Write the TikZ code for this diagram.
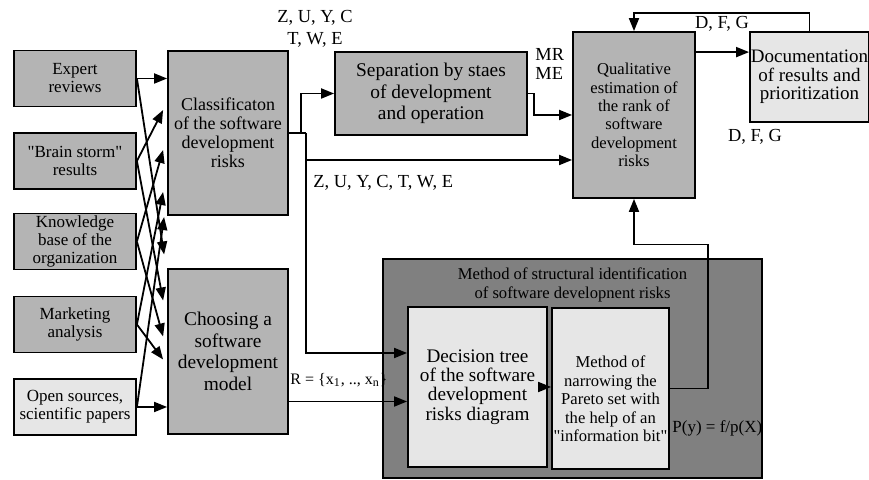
\documentclass[tikz,border=0pt]{standalone}
\usepackage{fontspec}
\setmainfont{Liberation Serif}
\newfontfamily\plainq{Liberation Serif}
\newcommand\dq{{\plainq"}}
\usetikzlibrary{arrows.meta, calc, positioning}
\definecolor{boxg}{RGB}{180,180,180}
\definecolor{paleg}{RGB}{230,230,230}
\definecolor{darkg}{RGB}{128,128,128}
\tikzset{blk/.style = {draw, line width=0.9pt, fill=boxg, align=center, inner sep=0pt}}
\tikzset{src/.style = {blk, minimum width=61pt, minimum height=28pt, font=\fontsize{8.5}{9}\selectfont}}
\tikzset{arr/.style = {-{Triangle[length=6.5pt, width=5pt]}, line width=0.9pt}}
\tikzset{lbl/.style = {inner sep=0pt, align=left, font=\fontsize{9.2}{11}\selectfont}}

\begin{document}
\begin{tikzpicture}[x=0.5pt, y=-0.5pt]
\useasboundingbox (0,0) rectangle (869,480);
\clip (0,0) rectangle (869,480);
\node[src] (expert) at (75,78.5) {Expert\\reviews};
\node[src] (brain) at (75,161) {\dq Brain storm\dq\\results};
\node[src] (know) at (75,241.5) {Knowledge\\base of the\\organization};
\node[src] (market) at (75,324.5) {Marketing\\analysis};
\node[src, fill=paleg] (open) at (75,407) {Open sources,\\scientific papers};
\node[blk, minimum width=60pt, minimum height=82pt, font=\fontsize{9}{9.5}\selectfont] (classif) at (228,133) {Classificaton\\of the software\\development\\risks};
\node[blk, minimum width=60pt, minimum height=82.5pt, font=\fontsize{9.7}{10.8}\selectfont] (choose) at (228,351.5) {Choosing a\\software\\development\\model};
\node[blk, minimum width=96pt, minimum height=41.5pt, font=\fontsize{9.7}{10.8}\selectfont] (separ) at (431,93.5) {Separation by staes\\of development\\and operation};
\node[blk, minimum width=61pt, minimum height=83pt, font=\fontsize{8.3}{9.2}\selectfont] (qual) at (634,115) {Qualitative\\estimation of\\the rank of\\software\\development\\risks};
\node[blk, fill=paleg, minimum width=59.5pt, minimum height=45pt, font=\fontsize{9.5}{9.2}\selectfont] (docum) at (809.5,77) {Documentation\\of results and\\prioritization};
\node[blk, fill=darkg, minimum width=189.5pt, minimum height=109.5pt] (method) at (572.5,368.5) {};
\node[inner sep=0pt, align=center, font=\fontsize{8.3}{9.3}\selectfont] (mtitle) at (572.5,285) {Method of structural identification\\of software developnent risks};
\node[blk, fill=paleg, minimum width=69.5pt, minimum height=80pt, font=\fontsize{9.6}{9.7}\selectfont] (decis) at (477.5,387) {Decision tree\\of the software\\development\\risks diagram};
\node[blk, fill=paleg, minimum width=58.5pt, minimum height=80.5pt] (narrow) at (610.5,388.5) {};
\node[inner sep=0pt, align=center, font=\fontsize{8.3}{9.3}\selectfont] (ntext) at (610.5,399) {Method of\\narrowing the\\Pareto set with\\the help of an\\\dq information bit\dq};

% sources to the two blocks
\draw[arr] (expert.east) -- (expert.east -| classif.west);
\draw[arr] (expert.east) -- ($(choose.west)+(-3,-97)$);
\draw[arr] (brain.east) -- ($(classif.west)+(-4,-23)$);
\draw[arr] (brain.east) -- ($(choose.west)+(-4,-51)$);
\draw[arr] (know.east) -- ($(classif.west)+(-4,17)$);
\draw[arr] (know.east) -- ($(choose.west)+(-4,-15)$);
\draw[arr] (market.east) -- ($(classif.west)+(-4,59)$);
\draw[arr] (market.east) -- ($(choose.west)+(-4,8)$);
\draw[arr] (open.east) -- ($(classif.west)+(-3,84)$);
\draw[arr] (open.east) -- (open.east -| choose.west);

\draw[line width=0.9pt] (classif.east) -- ++(17,0) coordinate (cj);
\coordinate (cz) at ($(cj)+(0,27)$);
\draw[arr] (cj) |- ($(decis.west)+(0,-34)$);
\draw[arr] ($(classif.east)+(12,0)$) |- (separ.west);
\draw[arr] (cz) -- (cz -| qual.west);
\draw[arr] (separ.east) -- ++(6,0) |- (qual.west);
\draw[arr] ($(qual.north east)+(0,21)$) coordinate (qd) -- (qd -| docum.west);
\draw[arr] (docum.north) -- ++(0,-18) -| (qual.north);
\coordinate (cr) at ($(choose.east)+(0,50)$);
\draw[arr] (cr) -- (cr -| decis.west);
\draw[arr] (decis.east) -- (decis.east -| narrow.west);
\draw[arr] (narrow.east) -- ++(38,0) -- ++(0,-144) -| (qual.south);

\node[lbl, align=center] (zuyc) at (315,29) {Z, U, Y, C\\T, W, E};
\node[lbl, anchor=west] (zuyce) at (313,183) {Z, U, Y, C, T, W, E};
\node[lbl, anchor=west, font=\fontsize{9.2}{9.5}\selectfont] (mrme) at (535,64) {MR\\ME};
\node[lbl] (dfga) at (722,24) {D, F, G};
\node[lbl] (dfgb) at (755,137) {D, F, G};
\node[lbl, anchor=west, font=\fontsize{8}{9}\selectfont] (rset) at (290,380) {R = \{x\textsubscript{1}, .., x\textsubscript{n}\}};
\node[lbl, anchor=west, font=\fontsize{8.5}{9}\selectfont] (pyf) at (672,428) {P(y) = f/p(X)};
\end{tikzpicture}
\end{document}
